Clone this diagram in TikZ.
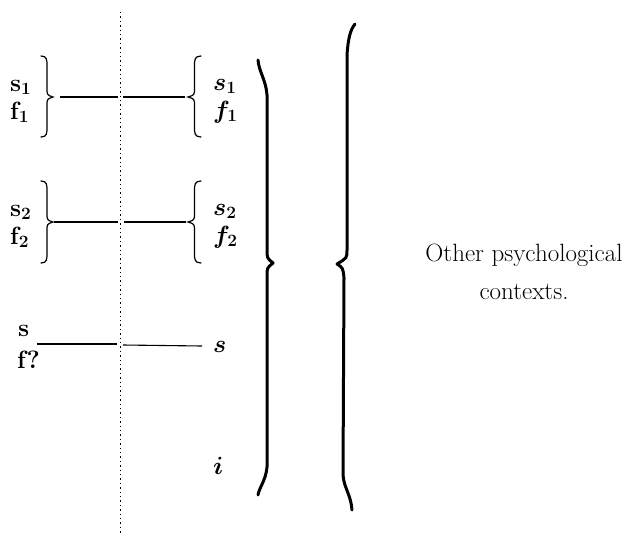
\documentclass[tikz,border=0pt]{standalone}
\begin{document}
\begin{tikzpicture}[x=1pt,y=-1pt,
  lbl/.style={inner sep=0pt,anchor=base west,font=\fontsize{25}{30}\selectfont\boldmath\bfseries},
  smallbrace/.style={line width=1.2pt,line cap=round},
  bigbrace/.style={line width=3pt,line cap=round,line join=round},
  conn/.style={line width=1.1pt},
  dotline/.style={line width=1.6pt,dash pattern=on 1.4pt off 3pt}]
\useasboundingbox (0,0) rectangle (634,535);
% dotted vertical line
\coordinate (dtop) at (120.5,12);
\coordinate (dbot) at (120.5,535);
\draw[dotline] (dtop) -- (dbot);
% small braces
\newcommand{\mybrR}[5]{%
 \draw[smallbrace] (#1,#2) .. controls ({#1+#5*0.5},#2) and ({#1+#5*0.5},{#2+4}) .. ({#1+#5*0.5},{#2+10})
   -- ({#1+#5*0.5},{#3-9}) .. controls ({#1+#5*0.5},{#3-2}) .. ({#1+#5},#3)
   .. controls ({#1+#5*0.5},{#3+2}) .. ({#1+#5*0.5},{#3+9})
   -- ({#1+#5*0.5},{#4-10}) .. controls ({#1+#5*0.5},{#4-4}) and ({#1+#5*0.5},#4) .. (#1,#4);}
\mybrR{41}{56}{97}{137}{12}
\mybrR{41}{181}{222}{263}{12}
\mybrR{201}{56}{97}{137}{-13}
\mybrR{201}{181}{222}{263}{-13}
% left labels
\node[lbl] (ls1) at (10,91) {$\mathrm{s}_1$};
\node[lbl] (lf1) at (10,119) {$\mathrm{f}_1$};
\node[lbl] (ls2) at (10,216) {$\mathrm{s}_2$};
\node[lbl] (lf2) at (10,244) {$\mathrm{f}_2$};
\node[lbl] (ls3) at (18,336) {s};
\node[lbl] (lf3) at (17,368) {f?};
% right labels
\node[lbl] (rs1) at (213,90) {$s_1$};
\node[lbl] (rf1) at (213,118) {$f_1$};
\node[lbl] (rs2) at (213,215) {$s_2$};
\node[lbl] (rf2) at (213,243) {$f_2$};
\node[lbl] (rs3) at (213,352) {$s$};
\node[lbl] (ri) at (213,474) {$i$};
% connectors
\coordinate (a1) at (60,97); \coordinate (a2) at (118,97);
\coordinate (a3) at (123,97); \coordinate (a4) at (185,97);
\coordinate (b1) at (54,222); \coordinate (b2) at (118,222);
\coordinate (b3) at (124,222); \coordinate (b4) at (186,222);
\coordinate (c1) at (37,344); \coordinate (c2) at (117,344);
\coordinate (c3) at (123,345); \coordinate (c4) at (202,346);
\draw[conn] (a1) -- (a2); \draw[conn] (a3) -- (a4);
\draw[conn] (b1) -- (b2); \draw[conn] (b3) -- (b4);
\draw[conn] (c1) -- (c2); \draw[conn] (c3) -- (c4);
% big braces
\draw[bigbrace] (258,60) .. controls (259,72) and (266,80) .. (267,95) -- (267,250)
  .. controls (267,258) .. (273,263) .. controls (267,268) .. (267,276)
  -- (267,467) .. controls (266,480) and (259,488) .. (258,495);
\draw[bigbrace] (355,24) .. controls (350,30) and (348,40) .. (347,55) -- (347,250)
  .. controls (347,258) .. (337,264) .. controls (343,268) .. (344,278)
  -- (343,475) .. controls (344,488) and (351,495) .. (352,510);
% text
\node[inner sep=0pt,align=center,font=\fontsize{25}{38}\selectfont] (other) at (524,272)
  {Other psychological\\contexts.};
\end{tikzpicture}
\end{document}
